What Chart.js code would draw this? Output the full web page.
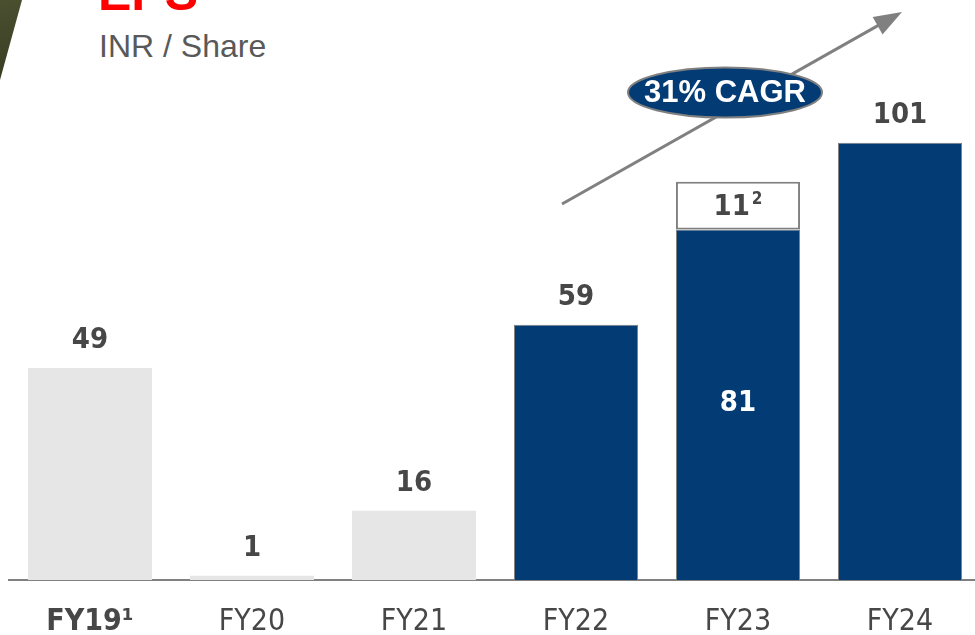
<!DOCTYPE html>
<html lang="en">
<head>
    <meta charset="UTF-8">
    <title>EPS</title>
    <script src="https://cdn.jsdelivr.net/npm/chart.js@4.4.1/dist/chart.umd.min.js"></script>
    <style>
        html, body { margin: 0; padding: 0; overflow: hidden; background: #fff; }
        body { width: 975px; height: 635px; position: relative; }
        #deco {
            position: absolute; left: 0; top: 0; width: 22px; height: 80px;
            background: linear-gradient(160deg, #4b5030, #383b23);
            clip-path: polygon(0 0, 100% 0, 0 100%);
        }
        #titre {
            position: absolute; left: 98px; top: -32px;
            font: bold 50px/50px "Liberation Sans", Arial, sans-serif; color: #ff0000;
        }
        #sousTitre {
            position: absolute; left: 99px; top: 30px;
            font: 32px/32px "Liberation Sans", Arial, sans-serif; color: #595959;
        }
        #zone { position: absolute; left: 0; top: 0; width: 981px; height: 635px; }
    </style>
</head>
<body>
<div id="deco"></div>
<div id="titre">EPS</div>
<div id="sousTitre">INR / Share</div>
<div id="zone"><canvas id="myChartEps"></canvas></div>

<script>
    // donnees
    let annees = ['FY19¹', 'FY20', 'FY21', 'FY22', 'FY23', 'FY24'];
    let epsBase = [49, 1, 16, 59, 81, 101];
    let epsAjustement = [null, null, null, null, 11, null];
    let notesAjustement = ['', '', '', '', '2', ''];
    let libelleCagr = '31% CAGR';

    let bleu = '#033c75';
    let grisClair = '#e6e6e6';
    let grisTrait = '#808080';
    let texteFonce = '#474747';
    let policeChiffres = "'DejaVu Sans Condensed', 'DejaVu Sans', sans-serif";

    // etiquettes de valeurs + fleche CAGR
    let pluginEtiquettes = {
        id: 'etiquettes',
        afterDatasetsDraw(chart) {
            let ctx = chart.ctx;
            ctx.save();
            ctx.textAlign = 'center';
            ctx.textBaseline = 'middle';
            ctx.font = 'bold 29px ' + policeChiffres;

            let meta0 = chart.getDatasetMeta(0);
            meta0.data.forEach((bar, i) => {
                if (epsAjustement[i] != null) {
                    ctx.fillStyle = '#ffffff';
                    ctx.fillText(String(epsBase[i]), bar.x, (bar.y + bar.base) / 2 - 1);
                } else {
                    ctx.fillStyle = texteFonce;
                    ctx.fillText(String(epsBase[i]), bar.x, bar.y - 27);
                }
            });

            // segment ajuste avec note en exposant
            let meta1 = chart.getDatasetMeta(1);
            meta1.data.forEach((bar, i) => {
                if (epsAjustement[i] == null) return;
                let texte = String(epsAjustement[i]);
                let note = notesAjustement[i];
                ctx.font = 'bold 29px ' + policeChiffres;
                let l1 = ctx.measureText(texte).width;
                ctx.font = 'bold 17px ' + policeChiffres;
                let l2 = ctx.measureText(note).width + 2;
                let debut = bar.x - (l1 + l2) / 2;
                let yMilieu = (bar.y + bar.base) / 2 + 2;
                ctx.textAlign = 'left';
                ctx.fillStyle = texteFonce;
                ctx.font = 'bold 29px ' + policeChiffres;
                ctx.fillText(texte, debut, yMilieu);
                ctx.font = 'bold 17px ' + policeChiffres;
                ctx.fillText(note, debut + l1 + 2, yMilieu - 8);
                ctx.textAlign = 'center';
            });

            // fleche de tendance
            let x1 = 562, y1 = 204, x2 = 902, y2 = 12;
            let angle = Math.atan2(y2 - y1, x2 - x1);
            ctx.strokeStyle = grisTrait;
            ctx.fillStyle = grisTrait;
            ctx.lineWidth = 3;
            ctx.beginPath();
            ctx.moveTo(x1, y1);
            ctx.lineTo(x2 - 14 * Math.cos(angle), y2 - 14 * Math.sin(angle));
            ctx.stroke();
            ctx.beginPath();
            ctx.moveTo(x2, y2);
            ctx.lineTo(x2 - 28 * Math.cos(angle) + 10 * Math.sin(angle), y2 - 28 * Math.sin(angle) - 10 * Math.cos(angle));
            ctx.lineTo(x2 - 28 * Math.cos(angle) - 10 * Math.sin(angle), y2 - 28 * Math.sin(angle) + 10 * Math.cos(angle));
            ctx.closePath();
            ctx.fill();

            // ellipse CAGR
            ctx.beginPath();
            ctx.ellipse(725, 92.5, 97, 25, 0, 0, Math.PI * 2);
            ctx.fillStyle = bleu;
            ctx.fill();
            ctx.lineWidth = 2;
            ctx.strokeStyle = grisTrait;
            ctx.stroke();
            ctx.fillStyle = '#ffffff';
            ctx.font = "bold 31px 'Liberation Sans', Arial, sans-serif";
            ctx.fillText(libelleCagr, 725, 93);
            ctx.restore();
        }
    };

    let content = document.querySelector('#myChartEps').getContext('2d');
    let myChart = new Chart(content, {
        type: 'bar',
        data: {
            labels: annees,
            datasets: [{
                label: 'EPS',
                data: epsBase,
                backgroundColor: epsBase.map((v, i) => i < 3 ? grisClair : bleu),
                borderColor: epsBase.map((v, i) => i < 3 ? grisClair : grisTrait),
                borderWidth: epsBase.map((v, i) => i < 3 ? 0 : 1),
                barPercentage: 0.766,
                categoryPercentage: 1
            }, {
                label: 'Ajustement',
                data: epsAjustement,
                backgroundColor: '#ffffff',
                borderColor: grisTrait,
                borderWidth: 2,
                borderSkipped: false,
                barPercentage: 0.766,
                categoryPercentage: 1
            }]
        },
        options: {
            responsive: true,
            maintainAspectRatio: false,
            animation: false,
            layout: { padding: { left: 9, right: 0, top: 0, bottom: 0 } },
            plugins: {
                legend: { display: false },
                tooltip: { enabled: false },
                title: { display: false }
            },
            scales: {
                x: {
                    stacked: true,
                    grid: { display: false, drawTicks: false },
                    border: { display: true, color: grisTrait, width: 2 },
                    ticks: {
                        color: texteFonce,
                        padding: 24,
                        font: (c) => ({
                            family: policeChiffres,
                            size: 30,
                            weight: c.index === 0 ? 'bold' : 'normal'
                        })
                    },
                    afterFit: (scale) => { scale.height = 55; }
                },
                y: {
                    stacked: true,
                    display: false,
                    min: 0,
                    max: 134
                }
            }
        },
        plugins: [pluginEtiquettes]
    });
</script>
</body>
</html>
